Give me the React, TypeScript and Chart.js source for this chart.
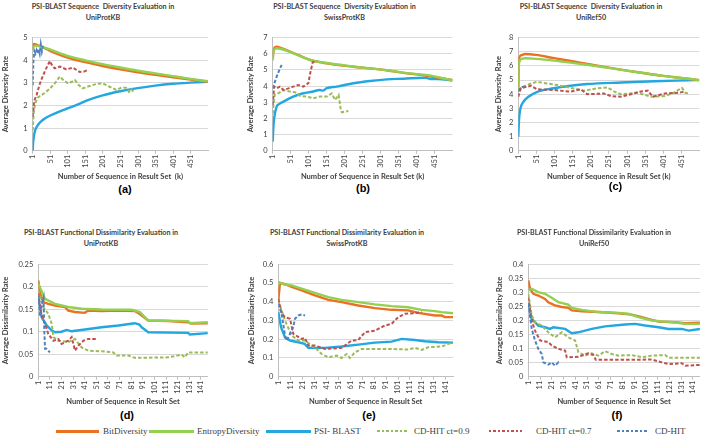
import { useEffect, useRef } from "react";
import { Chart, registerables } from "chart.js";
Chart.register(...registerables);

type P = [number, number][];

// ---------- data ----------
const SERIES_NAMES = ["BitDiversity", "EntropyDiversity", "PSI- BLAST", "CD-HIT ct=0.9", "CD-HIT ct=0.7", "CD-HIT"];
const X_TICKS_TOP = [1, 51, 101, 151, 201, 251, 301, 351, 401, 451];
const X_TICKS_BOTTOM = [1, 11, 21, 31, 41, 51, 61, 71, 81, 91, 101, 111, 121, 131, 141];

// (a) UniProtKB sequence diversity
const A_BIT: P = [[1,4.5],[4,4.72],[10,4.7],[25,4.6],[50,4.42],[100,4.12],[150,3.92],[200,3.75],[250,3.6],[300,3.47],[350,3.36],[400,3.25],[450,3.15],[500,3.05]];
const A_ENT: P = [[1,4.45],[4,4.6],[10,4.65],[25,4.6],[50,4.48],[100,4.2],[150,4.0],[200,3.83],[250,3.68],[300,3.54],[350,3.42],[400,3.3],[450,3.18],[500,3.07]];
const A_PSI: P = [[1,0],[2,0.3],[4,0.6],[8,0.9],[15,1.12],[25,1.3],[40,1.47],[60,1.62],[80,1.75],[100,1.87],[130,2.05],[160,2.25],[200,2.45],[250,2.63],[300,2.77],[350,2.88],[400,2.96],[450,3.01],[500,3.05]];
const A_C9: P = [[1,0.9],[4,1.7],[8,2.1],[15,2.35],[22,2.42],[35,2.55],[50,2.75],[65,3.0],[78,3.28],[90,3.1],[102,2.98],[112,3.05],[121,3.13],[132,2.9],[144,2.76],[160,2.85],[182,2.95],[200,2.98],[220,2.83],[239,2.69],[255,2.8],[267,2.78],[275,2.6],[282,2.72],[291,2.55]];
const A_C7: P = [[1,1.5],[5,2.2],[12,2.46],[20,2.9],[27,3.2],[38,3.6],[50,3.97],[57,3.75],[64,3.64],[78,3.72],[97,3.6],[116,3.67],[135,3.48],[147,3.5],[154,3.55],[159,3.52]];
const A_CD: P = [[1,2.9],[3,4.0],[6,4.4],[9,4.3],[12,4.45],[15,4.3],[18,4.5],[21,4.3],[24,4.7],[27,4.4],[30,4.65]];

// (b) SwissProtKB sequence diversity
const B_BIT: P = [[1,5.8],[4,6.3],[12,6.45],[25,6.35],[49,6.14],[75,5.9],[105,5.62],[151,5.41],[225,5.2],[271,5.1],[320,4.97],[364,4.82],[410,4.7],[466,4.5],[500,4.38]];
const B_ENT: P = [[1,5.6],[4,6.2],[12,6.35],[25,6.3],[49,6.12],[75,5.88],[105,5.62],[151,5.43],[225,5.22],[271,5.1],[320,4.98],[364,4.84],[410,4.73],[440,4.65],[466,4.52],[500,4.36]];
const B_PSI: P = [[1,0.56],[3,1.5],[5,2.0],[12,2.73],[20,2.9],[31,3.04],[58,3.35],[86,3.56],[110,3.65],[132,3.76],[140,3.72],[151,3.87],[179,3.97],[225,4.18],[271,4.32],[318,4.42],[364,4.46],[420,4.52],[430,4.5],[438,4.44],[470,4.43],[500,4.35]];
const B_C9: P = [[1,2.3],[6,3.45],[16,3.55],[31,3.76],[49,3.66],[63,3.62],[77,3.4],[95,3.35],[114,3.25],[132,3.35],[151,3.35],[165,3.55],[174,3.14],[184,3.45],[190,2.52],[193,2.38],[211,2.46]];
const B_C7: P = [[1,2.83],[5,3.97],[12,3.86],[21,3.97],[31,3.76],[45,3.86],[58,3.97],[72,4.07],[86,3.97],[100,4.18],[106,4.9],[112,5.48],[123,5.56]];
const B_CD: P = [[1,3.86],[12,4.59],[21,5.1],[26,5.31]];

// (c) UniRef50 sequence diversity
const C_BIT: P = [[1,4.5],[3,6.5],[8,6.75],[20,6.85],[50,6.78],[100,6.55],[150,6.33],[200,6.1],[250,5.88],[300,5.67],[350,5.48],[400,5.3],[450,5.15],[500,5.0]];
const C_ENT: P = [[1,4.3],[3,6.2],[10,6.5],[20,6.55],[50,6.5],[100,6.38],[150,6.22],[200,6.05],[250,5.86],[300,5.67],[350,5.48],[400,5.3],[450,5.15],[500,5.0]];
const C_PSI: P = [[1,1.0],[3,2.2],[6,2.9],[15,3.46],[29,3.82],[52,4.15],[98,4.42],[145,4.6],[191,4.72],[284,4.83],[377,4.92],[470,4.98],[500,5.0]];
const C_C9: P = [[1,4.3],[24,4.65],[52,4.88],[80,4.76],[108,4.65],[145,4.45],[182,4.25],[219,4.42],[247,4.48],[266,4.18],[284,4.0],[330,4.1],[368,3.82],[405,3.87],[430,4.1],[442,4.3],[452,4.45],[462,4.1],[470,4.05]];
const C_C7: P = [[1,3.82],[8,4.42],[36,4.6],[52,4.35],[98,4.3],[145,4.18],[173,4.35],[191,4.0],[237,4.05],[256,3.87],[284,3.82],[312,4.0],[335,4.18],[358,4.25],[372,3.82],[405,4.05],[442,4.1],[460,4.18]];
const C_CD: P = [[1,4.2],[5,4.4],[10,4.5],[18,4.55]];

// (d) UniProtKB functional dissimilarity
const D_BIT: P = [[1,0.214],[2.5,0.185],[5.3,0.166],[9.6,0.162],[15.4,0.158],[24,0.155],[26.8,0.147],[32.6,0.144],[41,0.142],[44,0.147],[55.5,0.146],[70,0.147],[84,0.146],[88,0.14],[90,0.136],[95.7,0.125],[113,0.124],[130,0.121],[133,0.118],[147,0.119]];
const D_ENT: P = [[1,0.207],[6.8,0.173],[15.4,0.162],[26.8,0.155],[38.3,0.151],[55.5,0.1496],[81,0.149],[88.5,0.1436],[91.4,0.136],[95.7,0.125],[130,0.1235],[131.5,0.119],[147,0.121]];
const D_PSI: P = [[1,0.177],[3.9,0.132],[8.2,0.114],[12.5,0.103],[15.4,0.099],[21,0.1],[25.4,0.104],[29.7,0.101],[41.2,0.105],[55.5,0.11],[70,0.114],[84,0.119],[88,0.116],[90,0.11],[95.7,0.099],[130,0.0975],[131.5,0.094],[147,0.097]];
const D_C9: P = [[1,0.192],[5.3,0.155],[9.6,0.14],[12.5,0.118],[14,0.088],[18.2,0.08],[26.8,0.077],[32.6,0.084],[38.3,0.065],[44,0.058],[55.5,0.0565],[65.6,0.054],[68.4,0.047],[78.5,0.047],[84,0.042],[113,0.043],[124.4,0.049],[127.2,0.043],[130,0.054],[147,0.054]];
const D_C7: P = [[1,0.185],[3.9,0.136],[6.8,0.118],[9.6,0.095],[14,0.08],[18.2,0.084],[21,0.073],[26.8,0.08],[29.7,0.088],[32.6,0.058],[35.5,0.069],[39.8,0.08],[44,0.084],[51.2,0.084]];
const D_CD: P = [[1,0.18],[2.5,0.135],[4,0.16],[5.5,0.175],[6.2,0.1],[6.8,0.062],[8,0.062],[11,0.054]];

// (e) SwissProtKB functional dissimilarity
const E_BIT: P = [[1,0.407],[2.4,0.5],[6,0.495],[12.2,0.479],[20.5,0.461],[31.6,0.434],[42.8,0.41],[53.9,0.398],[67.8,0.38],[81.7,0.366],[95.6,0.357],[109.5,0.354],[117.9,0.341],[131.8,0.327],[137.4,0.327],[140.2,0.318],[147,0.318]];
const E_ENT: P = [[1,0.49],[2,0.503],[6,0.492],[12.2,0.4875],[20.5,0.47],[31.6,0.448],[42.8,0.425],[53.9,0.41],[67.8,0.398],[81.7,0.386],[95.6,0.377],[109.5,0.371],[120.7,0.357],[131.8,0.35],[137.4,0.345],[147,0.339]];
const E_PSI: P = [[1,0.345],[3.3,0.264],[6.6,0.21],[10.8,0.193],[17.7,0.184],[23,0.175],[26,0.154],[40,0.154],[53.9,0.161],[67.8,0.171],[81.7,0.182],[95.6,0.1875],[104,0.202],[115,0.196],[123.5,0.189],[134.6,0.184],[147,0.182]];
const E_C9: P = [[1,0.407],[6.6,0.3],[12.2,0.22],[17.7,0.193],[23.3,0.193],[28.9,0.166],[33,0.148],[37.2,0.121],[42.8,0.104],[49.7,0.1125],[53.9,0.1],[58,0.121],[60.8,0.1],[65,0.13],[70.6,0.148],[81.7,0.148],[95.6,0.148],[109.5,0.145],[115,0.154],[120.7,0.143],[126.2,0.157],[137.4,0.161],[147,0.184]];
const E_C7: P = [[1,0.416],[3.8,0.336],[6.6,0.318],[10.8,0.309],[13.5,0.229],[20.5,0.202],[23.3,0.207],[26,0.166],[31.6,0.166],[40,0.148],[53.9,0.154],[62.2,0.193],[67.8,0.196],[73.4,0.2375],[81.7,0.246],[90,0.273],[95.6,0.282],[101.2,0.318],[106.8,0.336],[115.1,0.339],[120.7,0.345]];
const E_CD: P = [[1,0.39],[3.8,0.336],[6.6,0.22],[8,0.193],[10.8,0.229],[13.5,0.264],[14.9,0.309],[17.7,0.327],[20.5,0.332],[23.3,0.327]];

// (f) UniRef50 functional dissimilarity
const F_BIT: P = [[1,0.343],[2.45,0.313],[5.3,0.295],[9.5,0.289],[15.2,0.277],[18,0.265],[23.7,0.254],[29.4,0.248],[35,0.245],[38,0.236],[46.5,0.233],[60.7,0.23],[77.7,0.226],[89,0.221],[97.6,0.212],[106,0.202],[111.8,0.196],[126,0.194],[134.5,0.19],[147,0.192]];
const F_ENT: P = [[1,0.307],[3.9,0.313],[9.5,0.301],[15.2,0.295],[20.9,0.281],[26.6,0.265],[35,0.257],[38,0.245],[46.5,0.238],[60.7,0.23],[77.7,0.227],[86,0.224],[94.7,0.212],[106,0.2],[117.4,0.196],[126,0.193],[134.5,0.188],[147,0.188]];
const F_PSI: P = [[1,0.26],[3.9,0.206],[9.5,0.182],[15.2,0.176],[19.5,0.17],[22.3,0.176],[32.3,0.17],[38,0.155],[43.6,0.158],[55,0.17],[66.3,0.179],[83.4,0.186],[91.9,0.188],[100.4,0.182],[111.8,0.176],[120.3,0.17],[131.6,0.17],[137.3,0.164],[147,0.17]];
const F_C9: P = [[1,0.295],[3.9,0.218],[6.7,0.194],[12.4,0.182],[18,0.158],[23.7,0.14],[29.4,0.158],[35,0.14],[40.8,0.129],[43.6,0.087],[49.3,0.075],[55,0.083],[60.7,0.075],[66.3,0.0905],[72,0.081],[77.7,0.075],[89,0.077],[97.6,0.069],[106,0.075],[117.4,0.077],[120.3,0.067],[147,0.067]];
const F_C7: P = [[1,0.283],[3.9,0.2],[6.7,0.164],[11,0.129],[18,0.123],[20.9,0.111],[26.6,0.099],[32.3,0.093],[33.7,0.069],[43.6,0.071],[52,0.083],[56.4,0.077],[58.4,0.06],[83.4,0.06],[106,0.061],[114.6,0.051],[120.3,0.045],[131.6,0.048],[134.5,0.039],[147,0.042]];
const F_CD: P = [[1,0.26],[3.9,0.17],[6.7,0.129],[9.5,0.099],[12.4,0.081],[13.8,0.051],[18,0.043],[20.9,0.051],[23.7,0.039],[26.6,0.051],[28,0.045]];

// ---------- styles ----------
const COLORS = ["#EC7022", "#92D050", "#22A7E0", "#9BBB59", "#C0504D", "#4F81BD"];
const SOLID = [true, true, true, false, false, false];
const FONT = "Lato, 'Open Sans', sans-serif";
const TEXT = "#404040";

interface PanelDef {
  title: string[];
  label: string;
  yTitle: string;
  xTitle: string;
  yMax: number;
  yStep: number;
  xMax: number;
  xTicks: number[];
  series: P[];
  smooth: boolean;
  // layout (page px)
  plotL: number; plotR: number; plotT: number; plotB: number;
  yTitleX: number; xTitleY: number;
  titleX: number; titleY: number;
  labelX: number; labelY: number;
}

const PANELS: PanelDef[] = [
  { title: ["PSI-BLAST Sequence  Diversity Evaluation in", "UniProtKB"], label: "(a)", yTitle: "Average Diversity Rate", xTitle: "Number of Sequence in Result Set  (k)", yMax: 5, yStep: 0.5, xMax: 500, xTicks: X_TICKS_TOP, series: [A_BIT, A_ENT, A_PSI, A_C9, A_C7, A_CD], smooth: true,
    plotL: 32.7, plotR: 208, plotT: 37.7, plotB: 150.7, yTitleX: 6, xTitleY: 176, titleX: 103, titleY: 0.5, labelX: 125, labelY: 189 },
  { title: ["PSI-BLAST Sequence  Diversity Evaluation in", "SwissProtKB"], label: "(b)", yTitle: "Average Diversity Rate", xTitle: "Number of Sequence in Result Set (k)", yMax: 7, yStep: 1, xMax: 500, xTicks: X_TICKS_TOP, series: [B_BIT, B_ENT, B_PSI, B_C9, B_C7, B_CD], smooth: true,
    plotL: 272.7, plotR: 452.5, plotT: 37.7, plotB: 150.7, yTitleX: 250.7, xTitleY: 176, titleX: 344.5, titleY: 0.5, labelX: 363, labelY: 188 },
  { title: ["PSI-BLAST Sequence  Diversity Evaluation in", "UniRef50"], label: "(c)", yTitle: "Average Diversity Rate", xTitle: "Number of Sequence in Result Set (k)", yMax: 8, yStep: 1, xMax: 500, xTicks: X_TICKS_TOP, series: [C_BIT, C_ENT, C_PSI, C_C9, C_C7, C_CD], smooth: true,
    plotL: 518.3, plotR: 699.3, plotT: 37.7, plotB: 150.7, yTitleX: 498.3, xTitleY: 176, titleX: 591, titleY: 0.5, labelX: 615.5, labelY: 186 },
  { title: ["PSI-BLAST Functional Dissimilarity Evaluation in", "UniProtKB"], label: "(d)", yTitle: "Average Dissimilarity Rate", xTitle: "Number of Sequence in Result Set", yMax: 0.25, yStep: 0.05, xMax: 147, xTicks: X_TICKS_BOTTOM, series: [D_BIT, D_ENT, D_PSI, D_C9, D_C7, D_CD], smooth: false,
    plotL: 38.3, plotR: 208.3, plotT: 264.3, plotB: 376.7, yTitleX: 6, xTitleY: 401.7, titleX: 101, titleY: 226.5, labelX: 127, labelY: 415 },
  { title: ["PSI-BLAST Functional Dissimilarity Evaluation in", "SwissProtKB"], label: "(e)", yTitle: "Average Dissimilarity Rate", xTitle: "Number of Sequence in Result Set", yMax: 0.6, yStep: 0.1, xMax: 147, xTicks: X_TICKS_BOTTOM, series: [E_BIT, E_ENT, E_PSI, E_C9, E_C7, E_CD], smooth: false,
    plotL: 278.3, plotR: 453.3, plotT: 264.3, plotB: 376.7, yTitleX: 251.7, xTitleY: 401.7, titleX: 347, titleY: 226.5, labelX: 369, labelY: 415 },
  { title: ["PSI-BLAST Functional Dissimilarity Evaluation in", "UniRef50"], label: "(f)", yTitle: "Average Dissimilarity Rate", xTitle: "Number of Sequence in Result Set", yMax: 0.4, yStep: 0.05, xMax: 147, xTicks: X_TICKS_BOTTOM, series: [F_BIT, F_ENT, F_PSI, F_C9, F_C7, F_CD], smooth: false,
    plotL: 528.3, plotR: 700, plotT: 264.3, plotB: 376.7, yTitleX: 499.3, xTitleY: 401.7, titleX: 594, titleY: 226.5, labelX: 617, labelY: 415 },
];

const TITLE_LH = 9; // axis title line height
const TICK_SIZE = 7.5;

function Panel({ def }: { def: PanelDef }) {
  const ref = useRef<HTMLCanvasElement | null>(null);
  const cLeft = Math.round(def.yTitleX - TITLE_LH / 2 - 1);
  const cTop = Math.round(def.plotT - 10);
  const cWidth = Math.round(def.plotR + 3 - cLeft);
  const cHeight = Math.round(def.xTitleY + TITLE_LH / 2 - cTop);

  useEffect(() => {
    if (!ref.current) return;
    const padL = def.yTitleX - TITLE_LH / 2 - cLeft;
    const padT = def.plotT - cTop;
    const padR = cLeft + cWidth - def.plotR;
    const yW = def.plotL - cLeft - padL;
    const xH = cTop + cHeight - def.plotB;
    const order = [5, 4, 3, 1, 0, 2];
    const datasets = order.map((i) => ({
      label: SERIES_NAMES[i],
      data: def.series[i].map(([x, y]) => ({ x, y })),
      borderColor: COLORS[i],
      backgroundColor: COLORS[i],
      borderWidth: SOLID[i] ? 2.4 : 2,
      borderDash: SOLID[i] ? [] : [3.5, 2],
      pointRadius: 0,
      fill: false,
      tension: 0,
      cubicInterpolationMode: (SOLID[i] && def.smooth ? "monotone" : "default") as any,
    }));
    const chart = new Chart(ref.current, {
      type: "line",
      data: { datasets },
      options: {
        animation: false,
        responsive: false,
        maintainAspectRatio: false,
        layout: { padding: { left: padL, top: padT, right: padR, bottom: 0 } },
        plugins: { legend: { display: false }, tooltip: { enabled: false }, title: { display: false } },
        scales: {
          x: {
            type: "linear",
            min: 1,
            max: def.xMax,
            afterBuildTicks: (s: any) => { s.ticks = def.xTicks.map((v) => ({ value: v })); },
            afterFit: (s: any) => { s.height = xH; },
            ticks: { autoSkip: false, minRotation: 90, maxRotation: 90, padding: 1, color: TEXT, font: { family: FONT, size: TICK_SIZE },
              callback: (v: any) => String(v) },
            grid: { drawOnChartArea: false, drawTicks: true, tickLength: 3, color: "#BFBFBF" },
            border: { display: true, color: "#BFBFBF" },
            title: { display: true, text: def.xTitle, color: TEXT, padding: 0, font: { family: FONT, size: 7.5, weight: "bold", lineHeight: TITLE_LH / 7.5 } },
          },
          y: {
            min: 0,
            max: def.yMax,
            afterFit: (s: any) => { s.width = yW; },
            ticks: { stepSize: def.yStep, padding: 5, color: TEXT, font: { family: FONT, size: TICK_SIZE },
              callback: (v: any) => String(Number(Number(v).toFixed(4))) },
            grid: { color: "#D9D9D9", drawTicks: false },
            border: { display: true, color: "#BFBFBF" },
            title: { display: true, text: def.yTitle, color: TEXT, padding: 0, font: { family: FONT, size: 7.5, weight: "bold", lineHeight: TITLE_LH / 7.5 } },
          },
        },
      },
    });
    return () => chart.destroy();
  }, [def]);

  return (
    <>
      <canvas ref={ref} width={cWidth} height={cHeight}
        style={{ position: "absolute", left: cLeft, top: cTop, width: cWidth, height: cHeight }} />
      <div style={{ position: "absolute", left: def.titleX - 110, top: def.titleY, width: 220, textAlign: "center", whiteSpace: "pre", font: `bold 7.2px ${FONT}`, lineHeight: "11px", color: TEXT }}>
        {def.title.join("\n")}
      </div>
      <div style={{ position: "absolute", left: def.labelX - 20, top: def.labelY - 7, width: 40, textAlign: "center", font: `bold 11px Arial, 'Liberation Sans', sans-serif`, lineHeight: "14px", color: "#000" }}>
        {def.label}
      </div>
    </>
  );
}

const LEGEND_POS = [
  { lx: 56, lw: 43, tx: 103 },
  { lx: 149, lw: 45, tx: 197 },
  { lx: 266, lw: 45, tx: 314 },
  { lx: 377, lw: 32, tx: 414 },
  { lx: 489, lw: 33, tx: 536 },
  { lx: 617, lw: 32, tx: 655 },
];

function Legend() {
  const y = 431;
  return (
    <>
      {SERIES_NAMES.map((name, i) => {
        const p = LEGEND_POS[i];
        const bg = SOLID[i]
          ? COLORS[i]
          : `repeating-linear-gradient(90deg, ${COLORS[i]} 0px, ${COLORS[i]} 2.5px, transparent 2.5px, transparent 4.5px)`;
        return (
          <div key={name}>
            <div style={{ position: "absolute", left: p.lx, top: y - 1.5, width: p.lw, height: SOLID[i] ? 3 : 2.5, background: bg }} />
            <div style={{ position: "absolute", left: p.tx, top: y - 6, whiteSpace: "pre", font: "9px 'Liberation Serif', 'Times New Roman', serif", lineHeight: "12px", color: "#404040" }}>
              {name}
            </div>
          </div>
        );
      })}
    </>
  );
}

export default function App() {
  return (
    <div style={{ position: "absolute", left: 0, top: 0, width: 703, height: 441, background: "#fff", overflow: "hidden" }}>
      {PANELS.map((d) => <Panel key={d.label} def={d} />)}
      <Legend />
    </div>
  );
}
